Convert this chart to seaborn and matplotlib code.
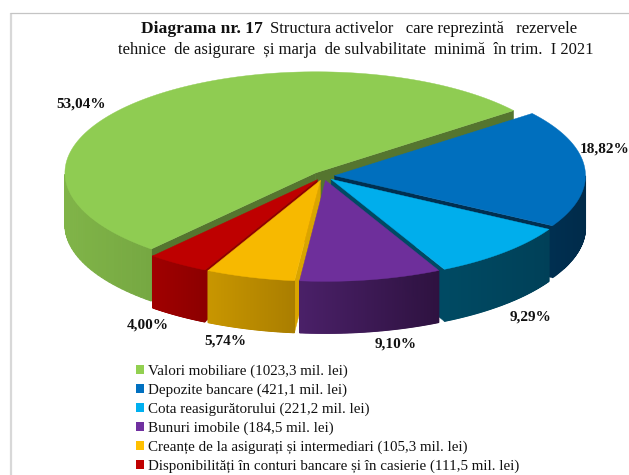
import numpy as np
import matplotlib
matplotlib.use("Agg")
import matplotlib.pyplot as plt
from matplotlib.patches import Patch, Polygon
import seaborn as sns

categories = ["Valori mobiliare (1023,3 mil. lei)",
              "Depozite bancare (421,1 mil. lei)",
              "Cota reasigurătorului (221,2 mil. lei)",
              "Bunuri imobile (184,5 mil. lei)",
              "Creanțe de la asigurați și intermediari (105,3 mil. lei)",
              "Disponibilități în conturi bancare și în casierie (111,5 mil. lei)"]
shares = [53.04, 18.82, 9.29, 9.10, 5.74, 4.00]
labels = ["53,04%", "18,82%", "9,29%", "9,10%", "5,74%", "4,00%"]
label_pos = [(81, 104), (605, 149), (531, 317), (396, 344), (225, 341), (148, 325)]

top_colors = ["#8FCC52", "#006FBE", "#00AEEC", "#6E2F9B", "#F7B900", "#BE0000"]
legend_colors = ["#92D050", "#0070C0", "#00B0F0", "#7030A0", "#FFC000", "#C00000"]
rim_left = ["#80B448", "#002F50", "#004A63", "#4A2068", "#C89600", "#A00000"]
rim_right = ["#76A842", "#002B4A", "#004058", "#2E1240", "#AA7E00", "#8C0000"]
side_colors = ["#55752F", "#002F50", "#004A63", "#4A2068", "#D9A500", "#8E0000"]

sns.set_theme(style="white")
plt.rcParams["font.family"] = ["Liberation Serif", "DejaVu Serif"]

# geometry of the tilted pie, in pixels of the picture
CX, CY = 323.5, 176
RX, RY = 251, 101
DEPTH = 52
EXPLODE = 11
START = 229

fig = plt.figure(figsize=(6.29, 4.75), dpi=100)
ax = fig.add_axes([0, 0, 1, 1])
ax.set_xlim(0, 629)
ax.set_ylim(475, 0)
ax.axis("off")

# frame of the pasted picture, only top and left are in view
ax.plot([11, 11], [12.5, 475], color="#D8D8D8", lw=1.6, solid_capstyle="butt")
ax.plot([10, 629], [12.5, 12.5], color="#C4C4C4", lw=0.9, solid_capstyle="butt")


def to_xy(cx, cy, ang):
    a = np.radians(ang)
    return cx + RX * np.cos(a), cy - RY * np.sin(a)


def draw_slice(i, a0, a1):
    # a0 is the clockwise start (larger angle), a1 the clockwise end
    mid = np.radians((a0 + a1) / 2)
    cx = CX + EXPLODE * np.cos(mid)
    cy = CY - EXPLODE * RY / RX * np.sin(mid)
    angs = np.linspace(a0, a1, 120)
    x, y = to_xy(cx, cy, angs)

    # cut faces, only the ones turned to the viewer
    for ang, normal in ((a0, a0 + 90), (a1, a1 - 90)):
        if np.sin(np.radians(normal)) < 0:
            ex, ey = to_xy(cx, cy, ang)
            pts = [(cx, cy), (ex, ey), (ex, ey + DEPTH), (cx, cy + DEPTH)]
            ax.add_patch(Polygon(pts, fc=side_colors[i], ec=side_colors[i], lw=0.3))

    # outer rim, shaded from left to right
    sa = np.sin(np.radians(angs))
    idx = np.where(sa <= 0.001)[0]
    if len(idx) > 1:
        c0 = np.array(matplotlib.colors.to_rgb(rim_left[i]))
        c1 = np.array(matplotlib.colors.to_rgb(rim_right[i]))
        xmin, xmax = x[idx].min(), x[idx].max()
        for j, k in zip(idx[:-1], idx[1:]):
            t = ((x[j] + x[k]) / 2 - xmin) / max(xmax - xmin, 1)
            col = c0 + (c1 - c0) * t
            pts = [(x[j], y[j]), (x[k], y[k]), (x[k], y[k] + DEPTH), (x[j], y[j] + DEPTH)]
            ax.add_patch(Polygon(pts, fc=col, ec=col, lw=0.8))

    # top
    ax.add_patch(Polygon(np.r_[[(cx, cy)], np.c_[x, y]], fc=top_colors[i], ec=top_colors[i], lw=0.3))


edges = START - 360 * np.cumsum([0] + shares) / sum(shares)
# back to front
for i in [0, 1, 2, 5, 4, 3]:
    draw_slice(i, edges[i], edges[i + 1])

for lab, (lx, ly) in zip(labels, label_pos):
    ax.text(lx, ly, lab, ha="center", va="center", fontsize=11, fontweight="bold", color="#111111")

ax.text(141, 29, "Diagrama nr. 17", ha="left", va="center", fontsize=12.6, fontweight="bold", color="#111111")
ax.text(270, 29, "Structura activelor   care reprezintă   rezervele", ha="left", va="center",
        fontsize=12, color="#111111")
ax.text(118, 50, "tehnice  de asigurare  și marja  de sulvabilitate  minimă  în trim.  I 2021", ha="left",
        va="center", fontsize=12, color="#111111")

handles = [Patch(fc=c, ec="none") for c in legend_colors]
ax.legend(handles, categories, loc="upper left", bbox_to_anchor=(136 / 629, 1 - 364.4 / 475), frameon=False,
          fontsize=10.85, labelspacing=0.37, handlelength=0.54, handleheight=0.54, handletextpad=0.25,
          borderpad=0, borderaxespad=0, labelcolor="#111111")

fig.savefig("out.png", dpi=100)
